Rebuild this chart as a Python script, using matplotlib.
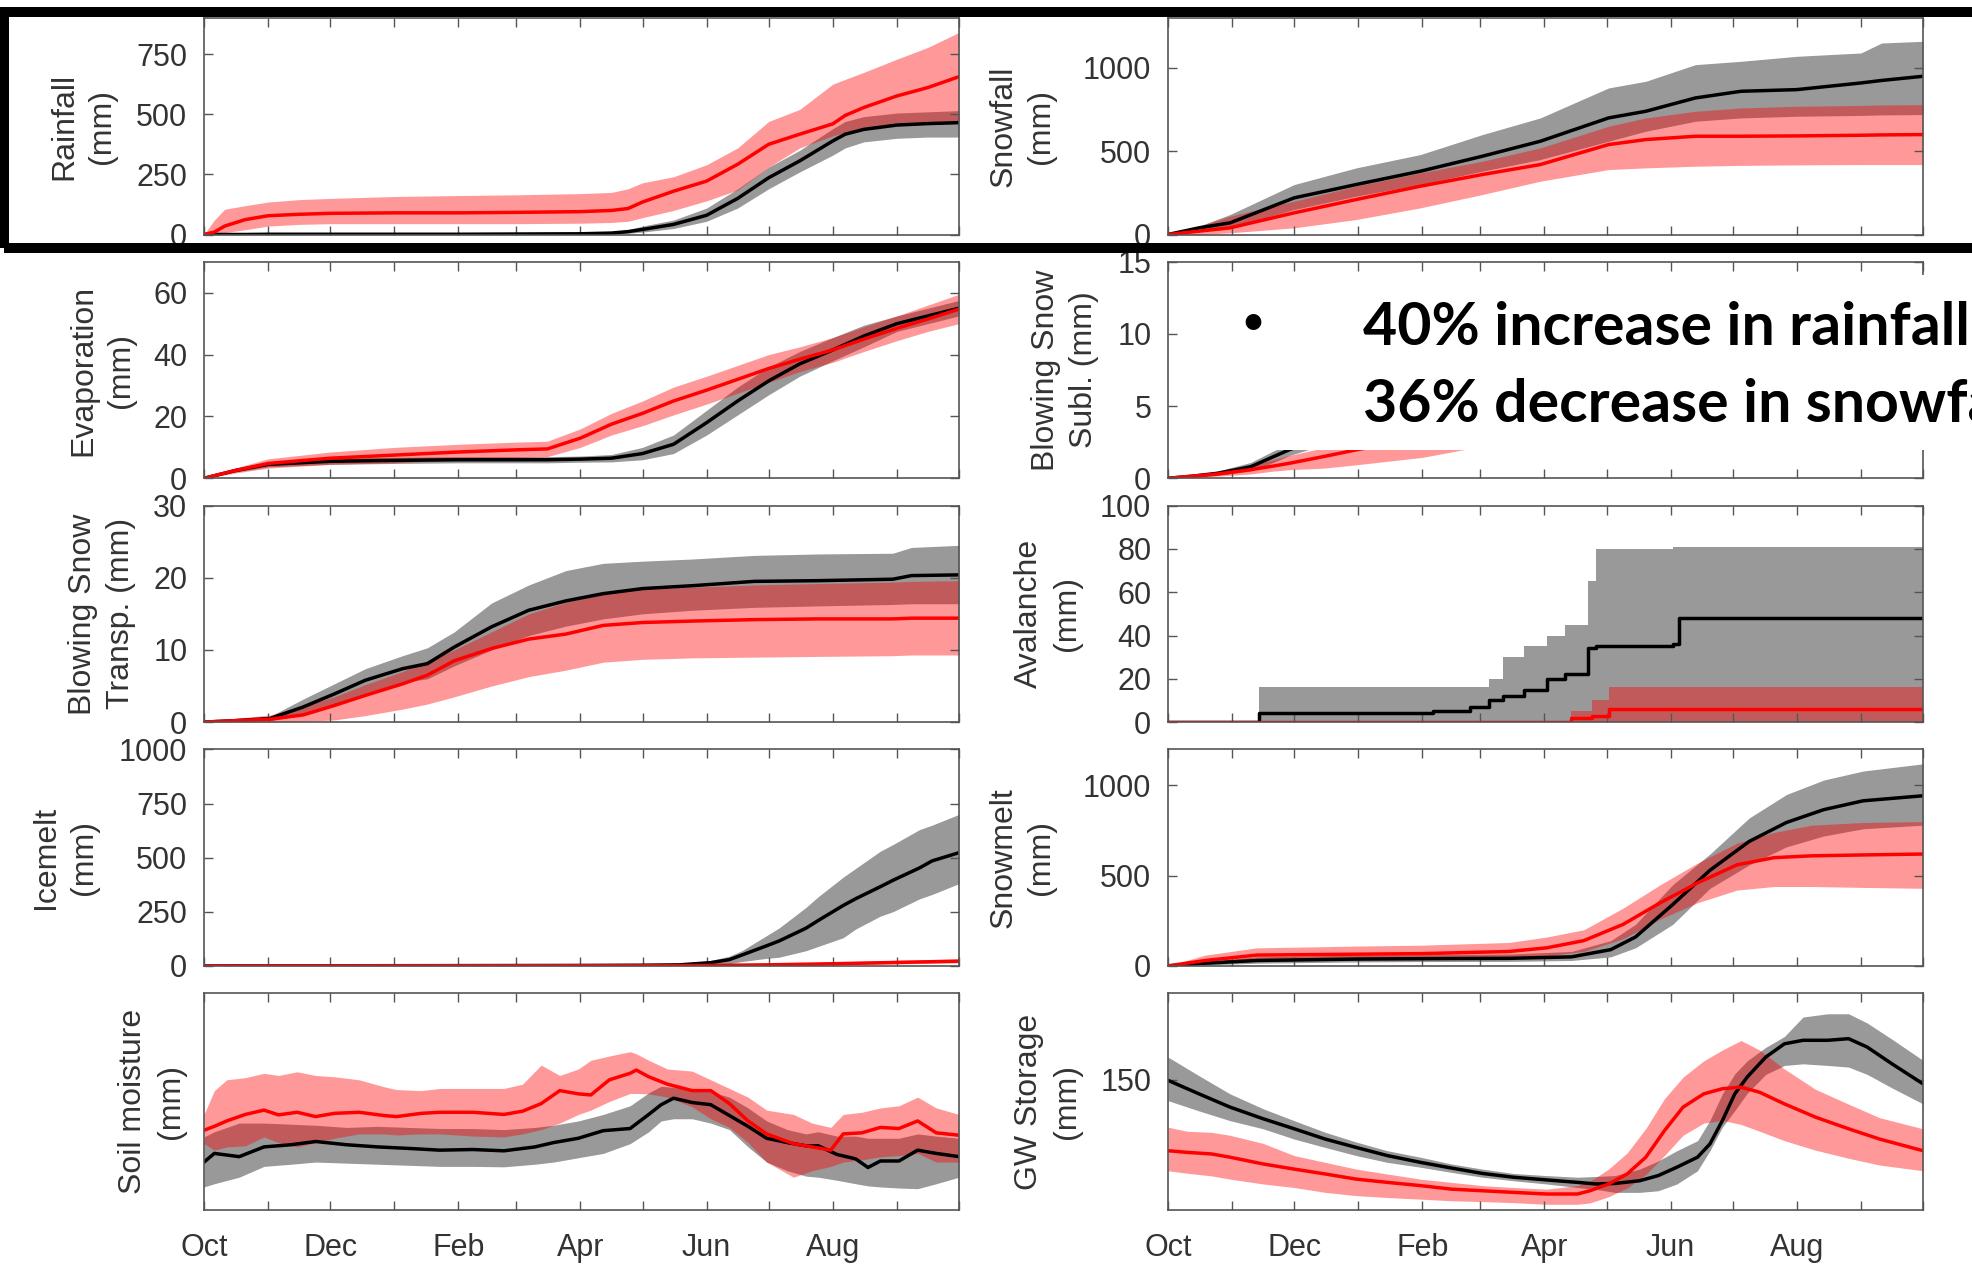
import numpy as np
import matplotlib
matplotlib.use('Agg')
import matplotlib.pyplot as plt
from matplotlib.patches import Rectangle

plt.rcParams['font.family'] = ['Liberation Sans', 'DejaVu Sans']

# days since 1 Oct, month starts
month_days = [0, 31, 61, 92, 123, 151, 182, 212, 243, 273, 304, 335, 365]
month_labels = ['Oct', '', 'Dec', '', 'Feb', '', 'Apr', '', 'Jun', '', 'Aug', '', '']

# ---- Rainfall
rain_x = [0, 5, 10, 20, 31, 46, 61, 92, 123, 151, 182, 197, 205, 212, 227, 243, 258, 273, 288, 304, 310, 319, 335, 350, 365]
rain_h = [0, 0, 0, 0, 1, 1, 1, 1, 1, 2, 3, 6, 12, 21, 42, 80, 150, 236, 306, 389, 417, 437, 455, 461, 465]
rain_h_hi = [0, 1, 2, 3, 4, 5, 6, 6, 6, 7, 8, 12, 20, 35, 60, 110, 190, 280, 350, 440, 470, 490, 505, 510, 515]
rain_h_lo = [0, 0, 0, 0, 0, 0, 0, 0, 0, 0, 1, 2, 5, 10, 25, 55, 110, 190, 260, 330, 360, 385, 400, 405, 405]
rain_f = [0, 10, 35, 62, 78, 84, 88, 90, 90, 92, 95, 100, 108, 135, 180, 222, 292, 375, 417, 460, 495, 528, 576, 611, 656]
rain_f_hi = [0, 60, 105, 120, 135, 145, 150, 158, 162, 165, 170, 175, 190, 215, 240, 290, 360, 470, 520, 625, 645, 674, 729, 778, 840]
rain_f_lo = [0, 0, 8, 20, 35, 42, 45, 45, 45, 45, 47, 50, 55, 70, 100, 140, 185, 280, 360, 410, 425, 440, 455, 465, 470]

# ---- Snowfall
snow_x = [0, 15, 30, 61, 91, 122, 152, 180, 213, 231, 255, 277, 304, 335, 345, 365]
snow_h = [0, 40, 70, 220, 300, 380, 470, 560, 700, 740, 820, 860, 870, 910, 925, 950]
snow_h_hi = [0, 50, 120, 300, 400, 480, 600, 700, 880, 920, 1020, 1040, 1070, 1090, 1150, 1160]
snow_h_lo = [0, 20, 40, 150, 230, 300, 380, 450, 560, 620, 680, 700, 710, 715, 718, 720]
snow_f = [0, 20, 40, 130, 210, 290, 360, 420, 540, 570, 590, 590, 592, 596, 598, 600]
snow_f_hi = [0, 50, 110, 200, 290, 370, 440, 520, 650, 700, 740, 760, 770, 775, 778, 780]
snow_f_lo = [0, 0, 10, 40, 90, 160, 240, 320, 390, 400, 410, 415, 418, 420, 420, 420]

# ---- Evaporation
evap_x = [0, 15, 31, 61, 92, 123, 151, 166, 182, 197, 212, 227, 243, 258, 273, 288, 304, 319, 335, 350, 365]
evap_h = [0, 2.5, 4.5, 5.5, 5.8, 6, 6, 6, 6.2, 6.5, 8, 11, 18, 25, 31.5, 37, 41.5, 46, 50, 52.5, 55]
evap_h_hi = [0, 3, 5.3, 6.5, 6.8, 7, 7, 7, 7.2, 7.7, 10, 14, 22, 29.5, 36, 41, 45.5, 49.5, 52.5, 55, 57.5]
evap_h_lo = [0, 2, 3.7, 4.5, 4.8, 5, 5, 5, 5.2, 5.3, 6, 8, 14, 20.5, 27, 33, 38, 42.5, 47.5, 50, 52.5]
evap_f = [0, 2.5, 4.8, 6.5, 7.5, 8.5, 9.2, 9.5, 13, 17.5, 21, 25, 28.5, 32, 35.5, 38.5, 41.5, 45, 48.5, 51.5, 54.7]
evap_f_hi = [0, 3.3, 6.3, 8.5, 10, 11, 11.7, 12, 16, 21, 25, 29.5, 33, 36.5, 40, 42.5, 45.5, 49, 52.5, 56, 59.5]
evap_f_lo = [0, 1.7, 3.3, 4.5, 5, 6, 6.7, 7, 10, 14, 17, 20.5, 24, 27.5, 31, 34.5, 37.5, 41, 44.5, 47.5, 50]

# ---- Blowing snow sublimation
subl_x = [0, 12, 24, 40, 51, 59, 75, 92, 123, 151, 182, 212, 243, 273, 304, 335, 365]
subl_h = [0, 0.15, 0.35, 0.8, 1.5, 2.0, 2.8, 3.5, 4.5, 5.3, 6.0, 6.5, 7.0, 7.3, 7.5, 7.7, 7.8]
subl_h_hi = [0, 0.2, 0.5, 1.1, 1.9, 2.4, 3.3, 4.2, 5.3, 6.2, 7.0, 7.6, 8.2, 8.6, 8.8, 9.0, 9.1]
subl_h_lo = [0, 0.1, 0.2, 0.5, 1.1, 1.6, 2.3, 2.9, 3.8, 4.5, 5.1, 5.5, 5.9, 6.1, 6.3, 6.4, 6.5]
subl_f = [0, 0.15, 0.3, 0.6, 0.85, 1.05, 1.5, 2.0, 2.8, 3.4, 3.9, 4.2, 4.4, 4.5, 4.6, 4.6, 4.7]
subl_f_hi = [0, 0.25, 0.45, 0.9, 1.3, 1.6, 2.1, 2.7, 3.6, 4.3, 4.9, 5.3, 5.6, 5.8, 5.9, 6.0, 6.1]
subl_f_lo = [0, 0.05, 0.15, 0.3, 0.5, 0.6, 0.7, 0.95, 1.45, 2.2, 2.6, 2.8, 3.0, 3.1, 3.2, 3.3, 3.4]

# ---- Blowing snow transport
tran_x = [0, 15, 32, 48, 63, 78, 96, 108, 121, 139, 157, 175, 193, 212, 236, 266, 297, 333, 342, 365]
tran_h = [0, 0.2, 0.5, 2.1, 3.9, 5.8, 7.4, 8.1, 10.4, 13.2, 15.5, 16.8, 17.8, 18.5, 18.9, 19.5, 19.6, 19.8, 20.3, 20.4]
tran_h_hi = [0, 0.3, 0.8, 3.2, 5.3, 7.4, 9.2, 10.3, 12.5, 16.5, 19.0, 21.0, 22.0, 22.3, 22.6, 23.1, 23.3, 23.4, 24.2, 24.5]
tran_h_lo = [0, 0.1, 0.2, 1.0, 2.5, 4.0, 5.5, 6.0, 7.8, 10.0, 12.0, 13.3, 14.3, 15.0, 15.5, 15.9, 16.1, 16.3, 16.4, 16.4]
tran_f = [0, 0.2, 0.4, 1.0, 2.3, 3.7, 5.3, 6.5, 8.5, 10.2, 11.5, 12.2, 13.4, 13.8, 14.0, 14.2, 14.3, 14.3, 14.4, 14.4]
tran_f_hi = [0, 0.5, 1.0, 2.2, 3.5, 5.2, 7.0, 8.5, 10.0, 12.5, 15.0, 16.6, 17.8, 18.4, 18.7, 19.0, 19.2, 19.4, 19.5, 19.6]
tran_f_lo = [0, 0, 0, 0.1, 0.3, 0.9, 1.8, 2.5, 3.5, 5.0, 6.3, 7.2, 8.3, 8.7, 8.9, 9.0, 9.1, 9.2, 9.3, 9.3]

# ---- Avalanche (stepped)
aval_h_x = [0, 44, 128, 146, 155, 162, 172, 183, 192, 203, 207, 244, 247, 365]
aval_h = [0, 4, 5, 7, 10, 12, 15, 20, 22, 34, 35, 36, 48, 48]
aval_h_hi = [0, 16, 16, 16, 20, 30, 35, 40, 45, 65, 80, 81, 81, 81]
aval_h_lo = [0, 0, 0, 0, 0, 0, 0, 0, 0, 0, 0, 0, 0, 0]
aval_f_x = [0, 190, 195, 205, 213, 365]
aval_f = [0, 0, 2, 3, 6, 6]
aval_f_hi = [0, 0, 5, 10, 16, 16]
aval_f_lo = [0, 0, 0, 0, 0, 0]

# ---- Icemelt
ice_h_x = [0, 92, 182, 212, 230, 245, 254, 260, 272, 278, 291, 297, 309, 315, 327, 333, 346, 352, 365]
ice_h = [0, 1, 2, 3, 5, 15, 29, 50, 93, 115, 174, 210, 279, 310, 366, 395, 453, 485, 523]
ice_h_hi = [0, 2, 4, 6, 10, 25, 45, 70, 140, 175, 270, 320, 410, 450, 530, 560, 630, 650, 700]
ice_h_lo = [0, 0, 1, 1, 2, 6, 10, 20, 35, 40, 70, 90, 130, 170, 230, 250, 310, 330, 380]
ice_f_x = [0, 182, 243, 273, 304, 335, 365]
ice_f = [0, 1, 2, 5, 10, 16, 22]
ice_f_hi = [0, 3, 5, 10, 18, 26, 32]
ice_f_lo = [0, 0, 1, 2, 5, 9, 14]

# ---- Snowmelt
melt_h_x = [0, 18, 43, 92, 123, 165, 195, 214, 226, 244, 262, 281, 299, 317, 336, 365]
melt_h = [0, 15, 30, 38, 40, 42, 50, 90, 160, 340, 530, 690, 795, 866, 915, 943]
melt_h_hi = [0, 25, 50, 60, 62, 66, 80, 140, 230, 450, 620, 820, 950, 1030, 1080, 1120]
melt_h_lo = [0, 5, 15, 22, 24, 25, 30, 50, 100, 230, 430, 560, 660, 720, 760, 780]
melt_f_x = [0, 18, 43, 92, 123, 165, 183, 201, 220, 238, 256, 275, 293, 311, 336, 365]
melt_f = [0, 30, 60, 65, 68, 80, 100, 140, 230, 350, 460, 560, 600, 610, 615, 620]
melt_f_hi = [0, 60, 100, 110, 115, 130, 160, 200, 320, 450, 570, 680, 740, 780, 795, 800]
melt_f_lo = [0, 10, 30, 32, 34, 40, 55, 80, 150, 260, 350, 420, 440, 440, 435, 430]

# ---- Soil moisture (no y scale shown)
soil_h_x = [0, 5, 17, 29, 42, 54, 69, 84, 99, 114, 130, 145, 160, 169, 181, 193, 206, 215, 221, 227,
            236, 245, 254, 263, 272, 282, 291, 297, 306, 315, 321, 327, 336, 345, 354, 365]
soil_h = [22, 26, 24.5, 29, 30, 31.5, 30, 29, 28.3, 27.5, 27.8, 27.2, 29, 31, 33, 36.5, 37.5, 44, 48.5, 51.5,
          49.5, 48.5, 43.5, 38.5, 33, 31, 29.5, 29.5, 25.5, 23.5, 19.5, 22.5, 22.5, 27.5, 26, 24.5]
soil_h_hi = [33.6, 36, 40, 40, 39.5, 39, 38, 38.5, 38, 37.5, 37.5, 37, 38, 39, 41, 44, 48, 54, 57, 56.5,
             55.5, 54.5, 52, 47, 41, 37, 35, 36, 34, 34, 33, 33, 33, 35, 34, 33]
soil_h_lo = [10.5, 12, 15, 20, 21, 22, 21.5, 21, 20.5, 20, 20, 19.8, 21, 22, 24, 26, 30.5, 36, 41, 42,
             42, 40, 37, 29, 22, 18, 15.5, 15, 13.6, 12, 11, 10.5, 10, 9.7, 12, 15]
soil_f_x = [0, 5, 11, 20, 29, 36, 45, 54, 63, 75, 87, 93, 105, 114, 130, 145, 154, 163, 172, 181,
            187, 196, 206, 209, 215, 224, 236, 245, 254, 263, 272, 285, 294, 303, 309, 318, 327, 336, 345, 354, 365]
soil_f = [36.7, 38.5, 41, 44, 46, 43.8, 45, 43, 44.5, 45, 43.5, 43, 44.5, 45, 45, 44, 45.5, 49, 55, 53.5,
          53, 60, 63, 64.5, 61.4, 58, 55, 55, 49, 41, 35, 30.5, 29, 27.5, 35, 35.5, 38, 37.5, 41, 35.5, 34.4]
soil_f_hi = [44, 55, 60, 61, 63, 62, 63.7, 62, 61.4, 60, 56.8, 55.5, 55, 56, 56, 56, 58, 66.8, 62, 65,
             69, 71, 73, 72, 69, 65, 64, 60, 56, 52, 46, 44, 40, 38, 44, 45, 47, 48, 52, 47, 44]
soil_f_lo = [30.5, 27.5, 29, 29.5, 33.6, 31, 29, 31, 33, 35, 35, 34.5, 35, 35, 34, 33.6, 35, 37, 40, 44,
             46, 50, 53.7, 53.7, 53.5, 52, 47.5, 42, 38, 31, 22, 15, 18, 20, 22, 23, 24.4, 25, 26, 22, 22]

# ---- GW storage
gw_h_x = [0, 15, 30, 46, 61, 76, 91, 106, 122, 137, 152, 167, 183, 198, 207, 216, 228, 237, 246, 256,
          262, 268, 274, 280, 289, 298, 307, 319, 329, 338, 350, 365]
gw_h = [149.8, 144.8, 139.9, 135.6, 131.9, 128.1, 125, 122, 119.5, 117.4, 115.4, 114, 113, 112.1, 111.5, 111.7,
        112.7, 114.6, 117.7, 121.4, 126.3, 134.9, 144.8, 151, 158.4, 163.3, 164.6, 164.6, 165.2, 162.1, 155.9, 148.5]
gw_h_hi = [158.4, 151.5, 144.8, 139.3, 134.9, 130.6, 127, 123.8, 121.4, 118.9, 117, 115.4, 114.6, 114, 114.3, 114.6,
           117, 120, 123.8, 127.5, 135, 144.8, 152.2, 157, 162, 166, 173.2, 174.4, 174.4, 171, 165, 157.2]
gw_h_lo = [142.3, 138.5, 134.9, 131.9, 128.1, 125, 122, 119.5, 117.7, 115.8, 114, 112.7, 111.5, 110.2, 109.5, 108.4,
           108.4, 109, 111.5, 116.4, 123.8, 132.5, 138.6, 145, 152, 155.3, 155.9, 155.3, 154.7, 152, 147, 141.1]
gw_f_x = [0, 9, 21, 30, 46, 61, 76, 91, 106, 122, 137, 152, 167, 183, 198, 204, 213, 222, 231, 240,
          249, 259, 268, 277, 286, 298, 313, 329, 344, 365]
gw_f = [123.8, 123.2, 122.6, 121.4, 118.9, 117, 115.2, 113.3, 112.1, 110.9, 109.6, 109, 108.4, 107.8, 107.8,
        109, 111.5, 115.2, 121.4, 131.2, 139.9, 144.8, 146.7, 147.3, 145.4, 141.1, 136.2, 131.9, 128.1, 123.8]
gw_f_hi = [132.5, 131, 130.6, 129.5, 126.5, 122, 119.5, 117, 115.2, 113.3, 112.1, 110.9, 110.2, 109.6, 110.9,
           112.5, 117, 123, 132, 143, 151, 157, 161, 164.5, 161, 154, 146.5, 141, 136, 131.9]
gw_f_lo = [116.4, 115.5, 114.5, 113.3, 111.5, 110.2, 108.4, 107.2, 106.5, 105.9, 105.3, 105, 104.6, 104, 104,
           104.5, 106.8, 110, 115, 122, 129.5, 134, 135, 133.5, 131, 127.5, 124, 121, 118.5, 116.4]


W, H = 1972, 1268
fig = plt.figure(figsize=(W / 100, H / 100), dpi=100)

col_left = [204, 1168]
ax_w = 755
row_top = [18, 261.8, 505.6, 749.4, 993.2]
ax_h = 216.5
grey = '#555555'
txt = '#333333'


def make_ax(row, col):
    x0 = col_left[col] / W
    y0 = 1 - (row_top[row] + ax_h) / H
    return fig.add_axes([x0, y0, ax_w / W, ax_h / H])


def draw(ax, h, f, step=False):
    st = 'post' if step else None
    ds = 'steps-post' if step else 'default'
    ax.fill_between(h[0], h[2], h[3], color='k', alpha=0.4, lw=0, step=st)
    ax.fill_between(f[0], f[2], f[3], color='red', alpha=0.4, lw=0, step=st)
    ax.plot(h[0], h[1], color='k', lw=2.5, drawstyle=ds)
    ax.plot(f[0], f[1], color='red', lw=2.5, drawstyle=ds)


panels = [
    (0, 0, 'Rainfall\n(mm)', (rain_x, rain_h, rain_h_lo, rain_h_hi), (rain_x, rain_f, rain_f_lo, rain_f_hi),
     (0, 900), [0, 250, 500, 750], -0.115, False),
    (0, 1, 'Snowfall\n(mm)', (snow_x, snow_h, snow_h_lo, snow_h_hi), (snow_x, snow_f, snow_f_lo, snow_f_hi),
     (0, 1300), [0, 500, 1000], -0.148, False),
    (1, 0, 'Evaporation\n(mm)', (evap_x, evap_h, evap_h_lo, evap_h_hi), (evap_x, evap_f, evap_f_lo, evap_f_hi),
     (0, 70), [0, 20, 40, 60], -0.09, False),
    (1, 1, 'Blowing Snow\nSubl. (mm)', (subl_x, subl_h, subl_h_lo, subl_h_hi), (subl_x, subl_f, subl_f_lo, subl_f_hi),
     (0, 15), [0, 5, 10, 15], -0.091, False),
    (2, 0, 'Blowing Snow\nTransp. (mm)', (tran_x, tran_h, tran_h_lo, tran_h_hi), (tran_x, tran_f, tran_f_lo, tran_f_hi),
     (0, 30), [0, 10, 20, 30], -0.09, False),
    (2, 1, 'Avalanche\n(mm)', (aval_h_x, aval_h, aval_h_lo, aval_h_hi), (aval_f_x, aval_f, aval_f_lo, aval_f_hi),
     (0, 100), [0, 20, 40, 60, 80, 100], -0.114, True),
    (3, 0, 'Icemelt\n(mm)', (ice_h_x, ice_h, ice_h_lo, ice_h_hi), (ice_f_x, ice_f, ice_f_lo, ice_f_hi),
     (0, 1000), [0, 250, 500, 750, 1000], -0.139, False),
    (3, 1, 'Snowmelt\n(mm)', (melt_h_x, melt_h, melt_h_lo, melt_h_hi), (melt_f_x, melt_f, melt_f_lo, melt_f_hi),
     (0, 1200), [0, 500, 1000], -0.148, False),
    (4, 0, 'Soil moisture\n(mm)', (soil_h_x, soil_h, soil_h_lo, soil_h_hi), (soil_f_x, soil_f, soil_f_lo, soil_f_hi),
     (0, 100), [], -0.024, False),
    (4, 1, 'GW Storage\n(mm)', (gw_h_x, gw_h, gw_h_lo, gw_h_hi), (gw_f_x, gw_f, gw_f_lo, gw_f_hi),
     (102, 182), [150], -0.114, False),
]

for row, col, label, h, f, ylim, yt, lx, step in panels:
    ax = make_ax(row, col)
    draw(ax, h, f, step)
    ax.set_xlim(0, 365)
    ax.set_ylim(*ylim)
    ax.set_yticks(yt)
    ax.set_xticks(month_days)
    if row == 4:
        ax.set_xticklabels(month_labels)
    else:
        ax.set_xticklabels([])
    ax.tick_params(direction='in', length=6.5, width=1, top=True, right=True,
                   color=grey, labelcolor=txt, labelsize=22)
    ax.tick_params(axis='y', pad=12)
    ax.tick_params(axis='x', pad=17)
    for s in ax.spines.values():
        s.set_color(grey)
        s.set_linewidth(1.2)
    ax.set_ylabel(label, fontsize=23, color=txt, linespacing=1.35)
    ax.yaxis.set_label_coords(lx, 0.5)

# white box with the annotation over the sublimation panel
fig.add_artist(Rectangle((1215 / W, 1 - 450 / H), (W - 1215) / W + 0.01, 175 / H,
                         transform=fig.transFigure, facecolor='white', edgecolor='none', zorder=5))
fig.text(1253 / W, 1 - 322 / H, '\u2022', fontsize=26, fontweight='bold', family='Lato',
         ha='center', va='center', zorder=6)
fig.text(1363 / W, 1 - 345 / H, '40% increase in rainfall', fontsize=42.5, fontweight='bold',
         family='Lato', ha='left', va='baseline', zorder=6)
fig.text(1363 / W, 1 - 422 / H, '36% decrease in snowfall', fontsize=42.5, fontweight='bold',
         family='Lato', ha='left', va='baseline', zorder=6)

# thick black frame round the top row
fig.add_artist(Rectangle((3.5 / W, 1 - 247.5 / H), (1974 - 3.5) / W, (247.5 - 11.7) / H,
                         transform=fig.transFigure, facecolor='none', edgecolor='black',
                         linewidth=7.2, zorder=7))

fig.savefig('out.png', dpi=100)
